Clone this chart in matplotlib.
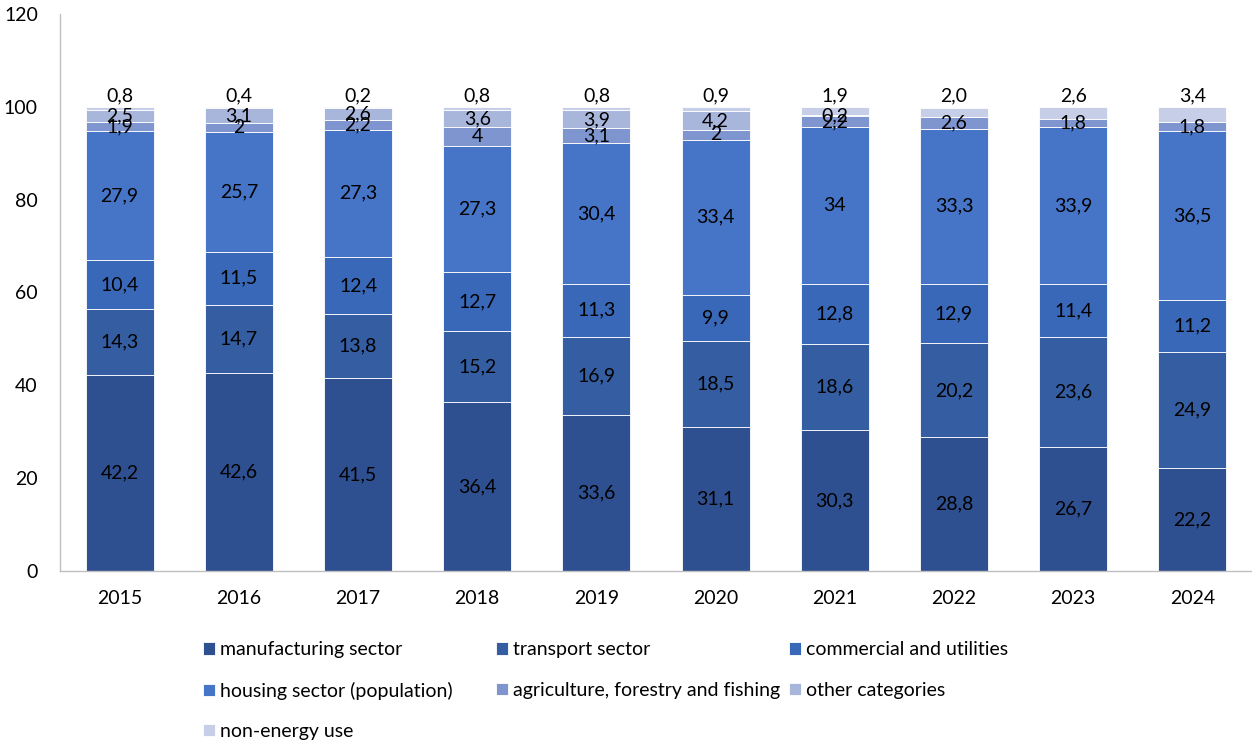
import matplotlib.pyplot as plt
import numpy as np

plt.rcParams['font.family'] = ['Lato', 'DejaVu Sans']

years = ['2015', '2016', '2017', '2018', '2019', '2020', '2021', '2022', '2023', '2024']
series_names = ['manufacturing sector', 'transport sector', 'commercial and utilities',
                'housing sector (population)', 'agriculture, forestry and fishing',
                'other categories', 'non-energy use']

manufacturing = [42.2, 42.6, 41.5, 36.4, 33.6, 31.1, 30.3, 28.8, 26.7, 22.2]
transport = [14.3, 14.7, 13.8, 15.2, 16.9, 18.5, 18.6, 20.2, 23.6, 24.9]
commercial = [10.4, 11.5, 12.4, 12.7, 11.3, 9.9, 12.8, 12.9, 11.4, 11.2]
housing = [27.9, 25.7, 27.3, 27.3, 30.4, 33.4, 34.0, 33.3, 33.9, 36.5]
agriculture = [1.9, 2.0, 2.2, 4.0, 3.1, 2.0, 2.2, 2.6, 1.8, 1.8]
other = [2.5, 3.1, 2.6, 3.6, 3.9, 4.2, 0.2, 0.0, 0.0, 0.0]
non_energy = [0.8, 0.4, 0.2, 0.8, 0.8, 0.9, 1.9, 2.0, 2.6, 3.4]

colors = ['#2f5090', '#355ea2', '#3a68b8', '#4674c6', '#7f95cf', '#a9b6dc', '#c6cee8']

data = [manufacturing, transport, commercial, housing, agriculture, other, non_energy]
FS = 14


def fmt(v, decimals=False):
    s = f'{v:.1f}' if decimals else f'{v:g}'
    return s.replace('.', ',')


fig = plt.figure(figsize=(12.52, 7.44), dpi=100)
ax = fig.add_axes([0.048, 0.2325, 0.952, 0.749])

x = np.arange(len(years))
bottom = np.zeros(len(years))
handles = []
for i, (vals, name, col) in enumerate(zip(data, series_names, colors)):
    vals = np.array(vals)
    bars = ax.bar(x, vals, 0.57, bottom=bottom, color=col, edgecolor='white',
                  linewidth=0.6, label=name)
    handles.append(bars)
    for xi, b, v in zip(x, bottom, vals):
        if v <= 0:
            continue
        if i == len(data) - 1:
            # top series label sits above the bar
            ax.text(xi, 102.4, fmt(v, True), ha='center', va='center', fontsize=FS, color='black')
        else:
            ax.text(xi, b + v / 2, fmt(v), ha='center', va='center', fontsize=FS, color='black')
    bottom += vals

ax.set_xlim(-0.5, 9.5)
ax.set_ylim(0, 120)
ax.set_yticks(range(0, 121, 20))
ax.set_xticks(x)
ax.set_xticklabels(years)
ax.tick_params(axis='both', length=0, labelsize=FS, colors='black')
ax.tick_params(axis='x', pad=14)
ax.tick_params(axis='y', pad=16)
for s in ['top', 'right']:
    ax.spines[s].set_visible(False)
for s in ['left', 'bottom']:
    ax.spines[s].set_color('#bfbfbf')
    ax.spines[s].set_linewidth(1.0)

# legend: three equal-width columns, filled row by row
columns = [[0, 3, 6], [1, 4], [2, 5]]
col_x = [203, 496, 789]
for idx, cx in zip(columns, col_x):
    leg = fig.legend([handles[i] for i in idx], [series_names[i] for i in idx],
                     loc='upper left', bbox_to_anchor=(cx / 1252, 0.138), frameon=False,
                     fontsize=FS, handlelength=0.6, handleheight=0.6, handletextpad=0.25,
                     labelspacing=1.2, borderpad=0, borderaxespad=0)

plt.savefig('out.png', dpi=100)
